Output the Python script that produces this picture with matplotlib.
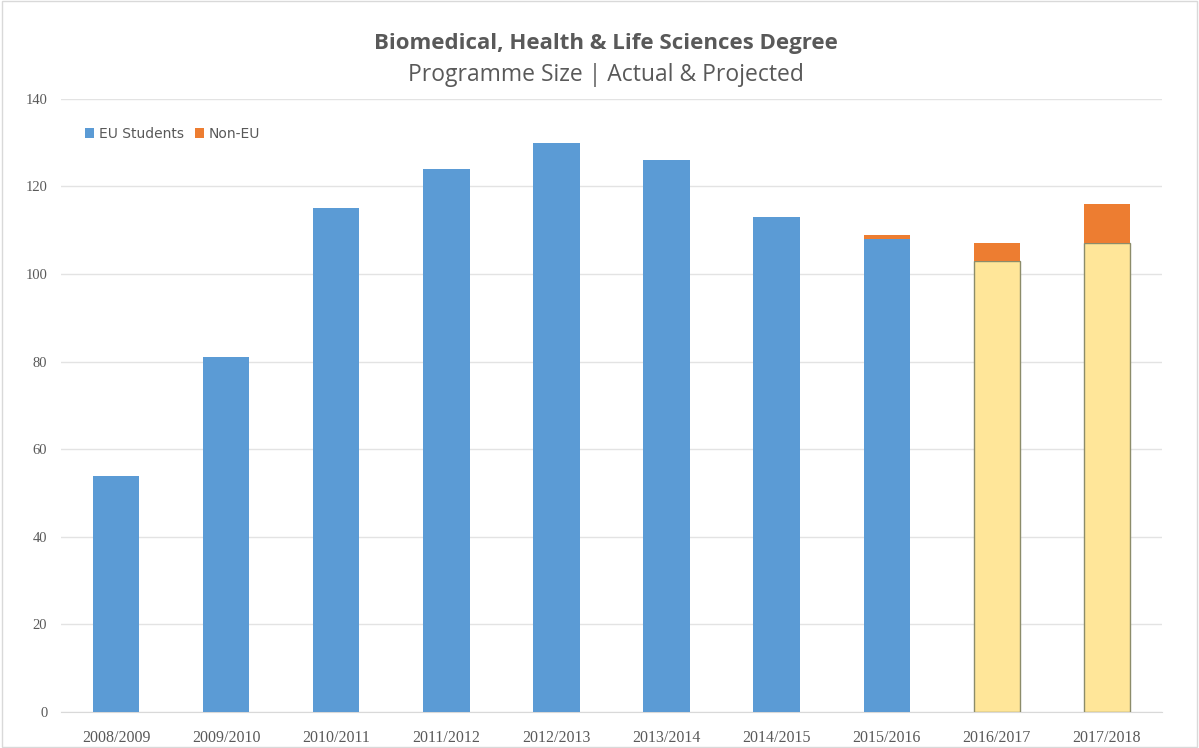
import matplotlib
matplotlib.use("Agg")
import matplotlib.pyplot as plt
import numpy as np

years = ["2008/2009", "2009/2010", "2010/2011", "2011/2012", "2012/2013",
         "2013/2014", "2014/2015", "2015/2016", "2016/2017", "2017/2018"]
eu_actual = [54, 81, 115, 124, 130, 126, 113, 108, 0, 0]
eu_projected = [0, 0, 0, 0, 0, 0, 0, 0, 103, 107]
non_eu = [0, 0, 0, 0, 0, 0, 0, 1, 4, 9]
yticks = [0, 20, 40, 60, 80, 100, 120, 140]

fig = plt.figure(figsize=(11.99, 7.48), dpi=100)
ax = fig.add_axes([0.051, 0.048, 0.918, 0.820])

x = np.arange(len(years))
w = 0.42
blue = "#5B9BD5"
orange = "#ED7D31"
yellow = "#FFE699"

ax.bar(x, eu_actual, w, color=blue, label="EU Students", zorder=3)
proj_mask = np.array(eu_projected) > 0
ax.bar(x[proj_mask], np.array(eu_projected)[proj_mask], w, color=yellow,
       edgecolor="#8C8C6A", linewidth=1.0, zorder=3)
base = np.array(eu_actual) + np.array(eu_projected)
ax.bar(x, non_eu, w, bottom=base, color=orange, label="Non-EU", zorder=3)

ax.set_xlim(-0.5, len(years) - 0.5)
ax.set_ylim(0, 140)
ax.set_yticks(yticks)
ax.set_xticks(x)
ax.set_xticklabels(years)
ax.grid(axis="y", color="#E3E3E3", linewidth=1, zorder=0)
for s in ax.spines.values():
    s.set_visible(False)
ax.spines["bottom"].set_visible(True)
ax.spines["bottom"].set_color("#D9D9D9")
ax.tick_params(axis="both", length=0, colors="#595959")
ax.tick_params(axis="y", pad=10, labelsize=10.5)
ax.tick_params(axis="x", pad=13, labelsize=11.5)
for lab in ax.get_xticklabels() + ax.get_yticklabels():
    lab.set_fontfamily("Liberation Serif")

leg = ax.legend(loc="upper left", bbox_to_anchor=(0.01, 0.975), ncol=2, frameon=False,
                fontsize=10, handlelength=0.7, handleheight=0.7, columnspacing=0.8,
                handletextpad=0.3, labelcolor="#595959")

fig.text(0.505, 0.942, "Biomedical, Health & Life Sciences Degree", ha="center", va="center",
         fontsize=16, fontweight="bold", color="#595959", family="Open Sans")
fig.text(0.505, 0.900, "Programme Size | Actual & Projected", ha="center", va="center",
         fontsize=16.5, color="#595959", family="Open Sans")

border = plt.Rectangle((0.002, 0.002), 0.996, 0.996, transform=fig.transFigure,
                       fill=False, edgecolor="#D9D9D9", linewidth=1)
fig.patches.append(border)

fig.savefig("out.png", dpi=100)
